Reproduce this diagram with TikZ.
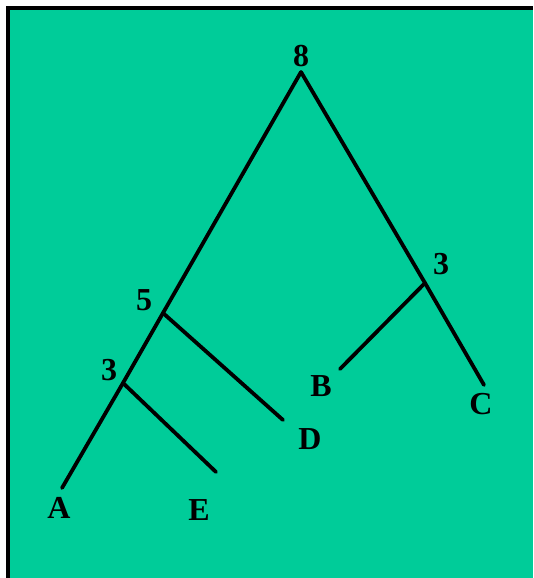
\documentclass[tikz,border=0pt]{standalone}
\usepackage{fontspec}
\setmainfont{Liberation Serif}
\usepackage{tikz}
\usetikzlibrary{positioning}
\definecolor{panelgreen}{RGB}{0,204,153}

\begin{document}
\begin{tikzpicture}[x=1pt, y=-1pt, branch/.style={line width=3.8pt, line cap=round}, lbl/.style={inner sep=0pt, font=\fontsize{32}{32}\selectfont\bfseries}]
    \useasboundingbox (0,0) rectangle (533,578);
    % Panel
    \fill[panelgreen] (6,6) rectangle (533,578);
    \draw[line width=4pt] (8,578) -- (8,8) -- (533,8);

    % Tree
    \coordinate (root) at (301,72);
    \coordinate (n5) at (163,313);
    \coordinate (n3l) at (123,383);
    \coordinate (n3r) at (425,283);
    \coordinate (endA) at (62,488);
    \coordinate (endE) at (216,472);
    \coordinate (endD) at (283,420);
    \coordinate (endB) at (340,369);
    \coordinate (endC) at (484,385);

    \draw[branch] (root) -- (n5) -- (n3l) -- (endA);
    \draw[branch] (root) -- (n3r) -- (endC);
    \draw[branch] (n5) -- (endD);
    \draw[branch] (n3l) -- (endE);
    \draw[branch] (n3r) -- (endB);

    % Heights
    \node[lbl] (h8) at (301,56) {8};
    \node[lbl] (h5) at (144,300) {5};
    \node[lbl] (h3l) at (109,370) {3};
    \node[lbl] (h3r) at (441,264) {3};

    % Leaves
    \node[lbl] (lA) at (59,508) {A};
    \node[lbl] (lE) at (199,510) {E};
    \node[lbl] (lD) at (310,439) {D};
    \node[lbl] (lB) at (321,386) {B};
    \node[lbl] (lC) at (481,404) {C};
\end{tikzpicture}
\end{document}
